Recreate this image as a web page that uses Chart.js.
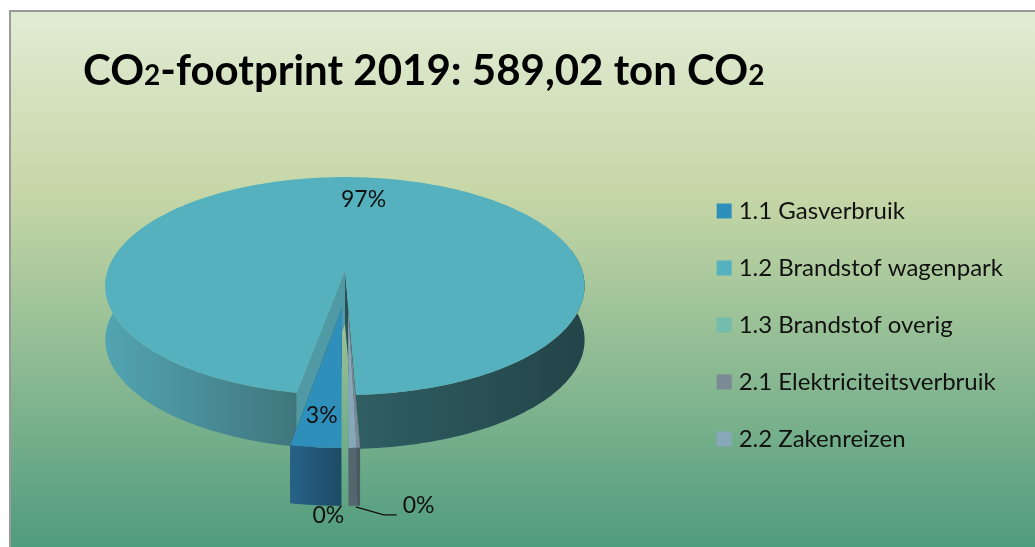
<!DOCTYPE html>
<html>
<head>
<meta charset="utf-8">
<style>
  html, body { margin: 0; padding: 0; background: #fff; overflow: hidden; }
  canvas { display: block; }
</style>
<script src="https://cdn.jsdelivr.net/npm/chart.js@4"></script>
</head>
<body>
<canvas id="graficoCo2" width="1035" height="547"></canvas>
<script>
/* Datos (ton CO2, suma 589,02) */
var categorias = ['1.1 Gasverbruik', '1.2 Brandstof wagenpark', '1.3 Brandstof overig', '2.1 Elektriciteitsverbruik', '2.2 Zakenreizen'];
var toneladas = [16.4, 568.92, 0.1, 1.0, 2.6];
/* Título por trozos: los "2" van en cuerpo pequeño */
var tituloTrozos = ['CO', '2', '-footprint 2019: 589,02 ton CO', '2'];

/* Colores de cada porción */
var colores = ['#2f8fbb', '#54b1bd', '#74bcab', '#7b8a94', '#87a8b8'];
var coloresLado = ['#23587a', '#3f757c', '#4f8a7c', '#4b5a62', '#56666e'];

/* Proyección del disco con perspectiva (x, y normalizados) */
var pieCx = 345, pieCy = 270, pieRx = 237, pieRy = 106.6, perspectiva = 0.147;
/* Grosor en px: porción principal y porciones separadas */
var grosores = [58, 54, 58, 58, 58];
/* Separación de cada porción respecto a la principal */
var sepX = [-0.012, 0, 0.012, 0.012, 0.012];
var sepY = [0.34, 0, 0.34, 0.34, 0.34];
/* Etiquetas: radio relativo y ajuste en px; null = sin etiqueta */
var etiquetas = [
    { r: 0.8, dx: 0, dy: 0 },
    { r: 0.73, dx: 8, dy: 0 },
    null,
    { r: 1, dx: -30, dy: 68 },
    { r: 1, dx: 66, dy: 58 }
];

function proyectar(x, y) {
    var w = 1 / (1 - perspectiva * y);
    return { x: pieCx + pieRx * x * w, y: pieCy + pieRy * y * w };
}

/* Punto del borde de una porción, ya con su separación */
function puntoBorde(i, angulo, r) {
    return proyectar(sepX[i] + r * Math.cos(angulo), sepY[i] + r * Math.sin(angulo));
}

function caminoCara(ctx, i, arco) {
    var ini = arco.startAngle, fin = arco.endAngle;
    var pasos = Math.max(2, Math.ceil((fin - ini) / 0.02));
    var c = puntoBorde(i, 0, 0);
    ctx.beginPath();
    ctx.moveTo(c.x, c.y);
    for (var k = 0; k <= pasos; k++) {
        var p = puntoBorde(i, ini + (fin - ini) * k / pasos, 1);
        ctx.lineTo(p.x, p.y);
    }
    ctx.closePath();
}

function caminoPared(ctx, i, ini, fin) {
    var pasos = Math.max(2, Math.ceil((fin - ini) / 0.02));
    var k, p;
    ctx.beginPath();
    for (k = 0; k <= pasos; k++) {
        p = puntoBorde(i, ini + (fin - ini) * k / pasos, 1);
        if (k === 0) ctx.moveTo(p.x, p.y); else ctx.lineTo(p.x, p.y);
    }
    for (k = pasos; k >= 0; k--) {
        p = puntoBorde(i, ini + (fin - ini) * k / pasos, 1);
        ctx.lineTo(p.x, p.y + grosores[i]);
    }
    ctx.closePath();
}

function paredRadial(ctx, i, angulo, color) {
    var c = puntoBorde(i, 0, 0), p = puntoBorde(i, angulo, 1);
    ctx.fillStyle = color;
    ctx.beginPath();
    ctx.moveTo(c.x, c.y);
    ctx.lineTo(p.x, p.y);
    ctx.lineTo(p.x, p.y + grosores[i]);
    ctx.lineTo(c.x, c.y + grosores[i]);
    ctx.closePath();
    ctx.fill();
}

function degradadoX(ctx, x0, x1, c0, c1) {
    var g = ctx.createLinearGradient(x0, 0, x1, 0);
    g.addColorStop(0, c0);
    g.addColorStop(1, c1);
    return g;
}

/* ── Fondo con degradado y marco ── */
var pluginFondo = {
    id: 'fondo',
    beforeDraw: function (chart) {
        var ctx = chart.ctx;
        var g = ctx.createLinearGradient(0, 10, 0, 547);
        g.addColorStop(0, '#e2ecd4');
        g.addColorStop(0.35, '#c5d6a6');
        g.addColorStop(1, '#4f9c7e');
        ctx.save();
        ctx.fillStyle = '#fff';
        ctx.fillRect(0, 0, 1035, 547);
        ctx.fillStyle = g;
        ctx.fillRect(9, 10, 1026, 537);
        ctx.strokeStyle = '#9a9a9a';
        ctx.lineWidth = 2;
        ctx.beginPath();
        ctx.moveTo(10, 547);
        ctx.lineTo(10, 11);
        ctx.lineTo(1035, 11);
        ctx.stroke();
        ctx.restore();
    }
};

/* ── Título con el "2" pequeño, sobre la línea base ── */
var pluginTitulo = {
    id: 'tituloCo2',
    afterDraw: function (chart) {
        var ctx = chart.ctx;
        var x = 83;
        ctx.save();
        ctx.fillStyle = '#000';
        ctx.textBaseline = 'alphabetic';
        tituloTrozos.forEach(function (t) {
            ctx.font = (t === '2' ? 'bold 28px' : 'bold 42px') + ' Lato';
            ctx.fillText(t, x, 85);
            x += ctx.measureText(t).width;
        });
        ctx.restore();
    }
};

/* ── Pastel 3D: usa los ángulos que calcula Chart.js y los proyecta ── */
var pluginPastel3d = {
    id: 'pastel3d',
    beforeDatasetsDraw: function (chart) {
        var ctx = chart.ctx;
        var arcos = chart.getDatasetMeta(0).data;
        var total = toneladas.reduce(function (a, b) { return a + b; }, 0);
        var main = arcos[1];
        ctx.save();

        /* Porción principal: paredes exteriores a cada lado de la muesca */
        var finDer = main.endAngle - 2 * Math.PI;
        caminoPared(ctx, 1, -0.2, finDer);
        ctx.fillStyle = degradadoX(ctx, 358, 585, '#2f5e63', '#234448');
        ctx.fill();
        caminoPared(ctx, 1, main.startAngle, Math.PI + 0.2);
        ctx.fillStyle = degradadoX(ctx, 106, 299, '#52a4b2', '#3f757c');
        ctx.fill();
        /* Paredes interiores de la muesca */
        paredRadial(ctx, 1, main.startAngle, '#4f9aa4');
        paredRadial(ctx, 1, main.endAngle, '#2a4f55');
        caminoCara(ctx, 1, main);
        ctx.fillStyle = colores[1];
        ctx.fill();

        /* Porciones separadas: primero los lados, luego las caras */
        [0, 2, 3, 4].forEach(function (i) {
            var a = arcos[i];
            paredRadial(ctx, i, a.endAngle, '#3d4a50');
            caminoPared(ctx, i, a.startAngle, a.endAngle);
            ctx.fillStyle = i === 0 ? degradadoX(ctx, 289, 344, '#27628a', '#1c4a63') : coloresLado[i];
            ctx.fill();
        });
        [0, 2, 3, 4].forEach(function (i) {
            caminoCara(ctx, i, arcos[i]);
            ctx.fillStyle = colores[i];
            ctx.fill();
        });

        /* Línea guía de la etiqueta 0% de la derecha */
        var borde = puntoBorde(4, arcos[4].startAngle, 1);
        var baseY = borde.y + grosores[4];
        ctx.strokeStyle = '#111';
        ctx.lineWidth = 1.3;
        ctx.beginPath();
        ctx.moveTo(borde.x - 1, baseY + 1);
        ctx.lineTo(borde.x + 27, baseY + 9);
        ctx.lineTo(borde.x + 40, baseY + 9);
        ctx.stroke();

        /* Etiquetas de porcentaje */
        ctx.fillStyle = '#111';
        ctx.font = '23px Lato';
        ctx.textAlign = 'center';
        ctx.textBaseline = 'middle';
        etiquetas.forEach(function (e, i) {
            if (!e) return;
            var a = arcos[i];
            var medio = (a.startAngle + a.endAngle) / 2;
            var p = puntoBorde(i, medio, e.r);
            ctx.fillText(Math.round(toneladas[i] / total * 100) + '%', p.x + e.dx, p.y + e.dy);
        });
        ctx.restore();
        return false;
    }
};

new Chart(document.getElementById('graficoCo2'), {
    type: 'pie',
    data: {
        labels: categorias,
        datasets: [{ data: toneladas, backgroundColor: colores, borderWidth: 0 }]
    },
    options: {
        responsive: false,
        animation: false,
        rotation: 180, /* La primera porción empieza abajo */
        layout: { padding: { right: 22, top: 166 } },
        plugins: {
            tooltip: { enabled: false },
            title: { display: false },
            legend: {
                position: 'right',
                align: 'start',
                labels: {
                    color: '#111',
                    font: { family: 'Lato', size: 24 },
                    padding: 33,
                    boxWidth: 5,
                    boxHeight: 5,
                    /* Cuadro de 15 px: caja pequeña con trazo ancho para acercar el texto */
                    generateLabels: function (chart) {
                        return Chart.overrides.pie.plugins.legend.labels.generateLabels(chart).map(function (item) {
                            item.lineWidth = 10;
                            item.strokeStyle = item.fillStyle;
                            return item;
                        });
                    }
                }
            }
        }
    },
    plugins: [pluginFondo, pluginPastel3d, pluginTitulo]
});
</script>
</body>
</html>
